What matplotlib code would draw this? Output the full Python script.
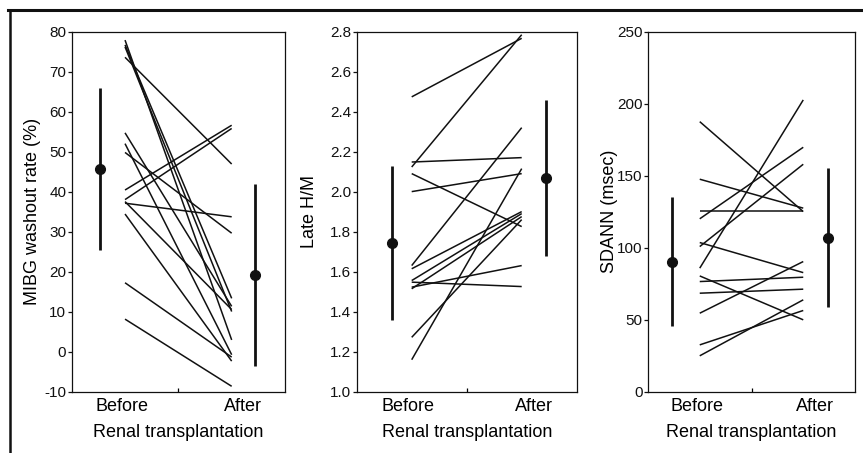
import matplotlib
matplotlib.use("Agg")
import matplotlib.pyplot as plt
from matplotlib.lines import Line2D

plt.rcParams['font.family'] = ['Liberation Sans', 'DejaVu Sans']
plt.rcParams['axes.unicode_minus'] = False

# ---------------- data ----------------
mibg_before = [77.9, 76.7, 76.2, 73.6, 54.7, 52.0, 49.8, 40.4, 38.0, 37.5, 37.1, 34.4, 17.2, 8.1]
mibg_after = [2.9, 13.3, 10.0, 46.9, 11.3, -0.8, 29.6, 56.6, 55.8, 10.5, 33.7, -2.4, -1.4, -8.7]
mibg_mean = [45.6, 19.2]
mibg_sd = [20.3, 22.7]

hm_before = [2.474, 2.123, 2.148, 2.09, 2.0, 1.63, 1.614, 1.555, 1.547, 1.522, 1.514, 1.271, 1.159]
hm_after = [2.767, 2.785, 2.17, 1.825, 2.09, 2.32, 1.90, 1.89, 1.525, 1.63, 1.875, 1.86, 2.115]
hm_mean = [1.742, 2.07]
hm_sd = [0.384, 0.39]

sdann_before = [187.5, 147.5, 125.7, 120.0, 103.5, 100.7, 85.7, 80.3, 76.4, 68.3, 54.4, 32.4, 24.8]
sdann_after = [125.0, 127.4, 125.7, 169.7, 82.6, 157.9, 202.6, 49.8, 79.4, 71.1, 90.3, 56.3, 63.7]
sdann_mean = [90.3, 106.9]
sdann_sd = [44.5, 48.2]

group_labels = ["Before", "After"]
xlabel = "Renal transplantation"
ylabels = ["MIBG washout rate (%)", "Late H/M", "SDANN (msec)"]
yticks_list = [list(range(-10, 81, 10)),
               [1.0, 1.2, 1.4, 1.6, 1.8, 2.0, 2.2, 2.4, 2.6, 2.8],
               [0, 50, 100, 150, 200, 250]]
tick_fmt = ["{:.0f}", "{:.1f}", "{:.0f}"]

panels = [
    (mibg_before, mibg_after, mibg_mean, mibg_sd),
    (hm_before, hm_after, hm_mean, hm_sd),
    (sdann_before, sdann_after, sdann_mean, sdann_sd),
]

# ---------------- layout ----------------
W, H = 863, 453
fig = plt.figure(figsize=(W / 100, H / 100), dpi=100)

bottom = 1 - 391.5 / H
height = (391.5 - 31.7) / H
rects = [(71.7, 285.0), (356.7, 576.7), (648.0, 855.0)]
mean_x = [(-0.23, 1.22), (-0.18, 1.22), (-0.27, 1.24)]
ylabel_x = [-0.182, -0.214, -0.184]

for i, (b, a, m, s) in enumerate(panels):
    l, r = rects[i]
    ax = fig.add_axes([l / W, bottom, (r - l) / W, height])
    for yb, ya in zip(b, a):
        ax.plot([0, 1], [yb, ya], color='#111111', lw=1.1, solid_capstyle='butt')
    ax.errorbar(mean_x[i], m, yerr=s, fmt='o', color='#111111', ms=7,
                elinewidth=2.0, capsize=0)
    yt = yticks_list[i]
    ax.set_ylim(yt[0], yt[-1])
    ax.set_xlim(-0.5, 1.5)
    ax.set_yticks(yt)
    ax.set_yticklabels([tick_fmt[i].format(v) for v in yt], fontsize=11)
    ax.tick_params(axis='y', direction='out', length=3, width=0.9, pad=1, colors='#111111')
    ax.set_xticks([0.5])
    ax.set_xticklabels([])
    ax.tick_params(axis='x', direction='in', length=3, width=0.9)
    for sp in ax.spines.values():
        sp.set_linewidth(0.9)
        sp.set_color('#111111')
    ax.text(-0.03, -0.043, group_labels[0], transform=ax.get_xaxis_transform(),
            ha='center', va='center', fontsize=13)
    ax.text(1.11, -0.043, group_labels[1], transform=ax.get_xaxis_transform(),
            ha='center', va='center', fontsize=13)
    ax.text(0.5, -0.115, xlabel, transform=ax.transAxes,
            ha='center', va='center', fontsize=13)
    ax.text(ylabel_x[i], 0.5, ylabels[i], transform=ax.transAxes, rotation=90,
            ha='center', va='center', fontsize=13)

# frame lines (top and left)
fig.add_artist(Line2D([8 / W, 1.0], [1 - 10 / H, 1 - 10 / H], transform=fig.transFigure,
                      color='#111111', lw=2.2))
fig.add_artist(Line2D([10 / W, 10 / W], [0, 1 - 10 / H], transform=fig.transFigure,
                      color='#111111', lw=1.8))

fig.savefig("out.png", dpi=100)
